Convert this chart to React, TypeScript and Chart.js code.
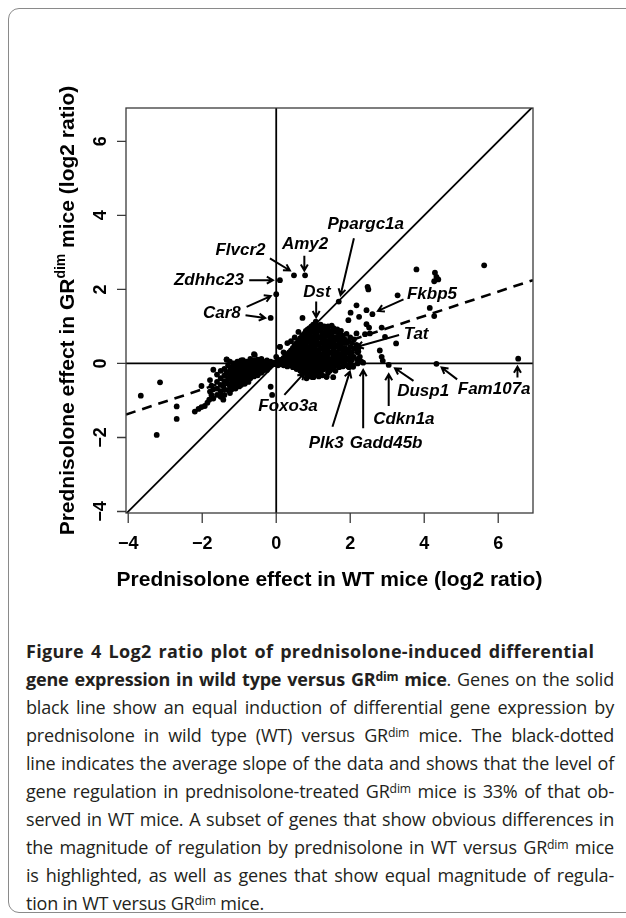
import React, { useEffect, useRef } from "react";
import { Chart, registerables } from "chart.js";

Chart.register(...registerables);

// ---------- data ----------
const xTicks = [-4, -2, 0, 2, 4, 6];
const yTicks = [-4, -2, 0, 2, 4, 6];
const xRange = [-4.06, 6.94];
const yRange = [-4.04, 6.9];
const fitSlope = 0.33;
const fitIntercept = -0.04;

const xTitle = "Prednisolone effect in WT mice (log2 ratio)";
const yTitleParts = ["Prednisolone effect in GR", "dim", " mice (log2 ratio)"];

// genes: [WT log2 ratio, GRdim log2 ratio]
const leftPoints: [number, number][] = [
  [-3.66, -0.87], [-3.14, -0.51], [-3.23, -1.93], [-2.69, -1.16], [-2.69, -1.5],
  [-2.2, -1.3], [-2.1, -1.23], [-2.02, -1.18], [-1.93, -1.15], [-1.86, -1.06], [-2.02, -0.61],
  [-1.79, -0.76], [-1.81, -0.98], [-1.79, -0.45],
  [-1.75, -0.6], [-1.75, -0.85], [-1.7, -0.17], [-1.7, -0.7], [-1.7, -0.95],
  [-1.6, -0.3], [-1.6, -0.5], [-1.6, -0.68], [-1.6, -0.85],
  [-1.5, -0.2], [-1.5, -0.4], [-1.5, -0.58], [-1.5, -0.75], [-1.5, -0.9],
  [-1.43, -0.98], [-1.43, -0.6],
  [-1.4, -0.15], [-1.4, -0.32], [-1.4, -0.48], [-1.4, -0.7], [-1.4, -0.85],
  [-1.34, 0.1], [-1.34, -0.25],
  [-1.3, -0.05], [-1.3, -0.4], [-1.3, -0.55], [-1.3, -0.72],
  [-1.25, 0.05], [-1.25, -0.18], [-1.25, -0.33], [-1.25, -0.62], [-1.25, -0.8],
  [-1.2, -0.1], [-1.2, -0.28], [-1.2, -0.45], [-1.2, -0.55], [-1.2, -0.7],
  [-1.15, 0.0], [-1.15, -0.2], [-1.15, -0.38], [-1.15, -0.6],
  [-1.1, -0.08], [-1.1, -0.25], [-1.1, -0.42], [-1.1, -0.5], [-1.1, -0.68],
  [-1.05, 0.05], [-1.05, -0.15], [-1.05, -0.32], [-1.05, -0.55],
  [-1.0, -0.05], [-1.0, -0.2], [-1.0, -0.38], [-1.0, -0.48], [-1.0, -0.62],
  [-0.95, 0.08], [-0.95, -0.1], [-0.95, -0.28], [-0.95, -0.42], [-0.95, -0.58],
  [-0.9, 0.09], [-0.9, -0.02], [-0.9, -0.18], [-0.9, -0.35], [-0.9, -0.5],
  [-0.85, -0.08], [-0.85, -0.25], [-0.85, -0.4], [-0.85, -0.55],
  [-0.8, 0.05], [-0.8, -0.12], [-0.8, -0.3], [-0.8, -0.45],
  [-0.75, 0.0], [-0.75, -0.18], [-0.75, -0.35], [-0.75, -0.5],
  [-0.7, 0.12], [-0.7, -0.05], [-0.7, -0.22], [-0.7, -0.4],
  [-0.65, 0.02], [-0.65, -0.12], [-0.65, -0.3],
  [-0.6, 0.25], [-0.6, 0.08], [-0.6, -0.05], [-0.6, -0.2], [-0.6, -0.35],
  [-0.55, 0.0], [-0.55, -0.15], [-0.55, -0.3],
  [-0.5, 0.1], [-0.5, -0.05], [-0.5, -0.2], [-0.5, -0.32],
  [-0.45, 0.03], [-0.45, -0.1], [-0.45, -0.25],
  [-0.4, 0.12], [-0.4, -0.02], [-0.4, -0.15], [-0.4, -0.25],
  [-0.35, 0.05], [-0.35, -0.1], [-0.35, -0.2],
  [-0.3, 0.0], [-0.3, -0.12],
  [-0.25, 0.08], [-0.25, -0.05], [-0.25, -0.18],
  [-0.2, 0.02], [-0.2, -0.1],
  [-0.15, 0.05], [-0.15, -0.05], [-0.15, -0.63],
  [-0.1, 0.0], [-0.11, -0.85],
  [-0.05, 0.03], [-0.05, -0.02],
];

const corePoints: [number, number][] = [
  [0.05, 0.0], [0.05, 0.1], [0.05, -0.05],
  [0.1, 0.05], [0.1, 0.45], [0.1, -0.02],
  [0.15, 0.1], [0.15, 0.0],
  [0.2, 0.15], [0.2, 0.02], [0.2, -0.05], [0.2, 0.3],
  [0.25, 0.2], [0.25, 0.08], [0.25, -0.03],
  [0.3, 0.25], [0.3, 0.12], [0.3, 0.0], [0.3, 0.55], [0.3, -0.08],
  [0.35, 0.3], [0.35, 0.15], [0.35, 0.05], [0.35, -0.05],
  [0.4, 0.35], [0.4, 0.2], [0.4, 0.08], [0.4, -0.02], [0.4, 0.6],
  [0.45, 0.42], [0.45, 0.25], [0.45, 0.12], [0.45, 0.0], [0.45, -0.1],
  [0.5, 0.5], [0.5, 0.3], [0.5, 0.18], [0.5, 0.05], [0.5, -0.05], [0.5, 0.7],
  [0.55, 0.55], [0.55, 0.38], [0.55, 0.22], [0.55, 0.1], [0.55, -0.02], [0.55, -0.15],
  [0.6, 0.62], [0.6, 0.45], [0.6, 0.3], [0.6, 0.15], [0.6, 0.03], [0.6, -0.1], [0.6, 0.85],
  [0.65, 0.68], [0.65, 0.5], [0.65, 0.35], [0.65, 0.2], [0.65, 0.08], [0.65, -0.05], [0.65, -0.2],
  [0.7, 0.75], [0.7, 0.58], [0.7, 0.4], [0.7, 0.25], [0.7, 0.12], [0.7, 0.0], [0.7, -0.15], [0.7, -0.3],
  [0.71, 1.23],
  [0.75, 0.8], [0.75, 0.62], [0.75, 0.45], [0.75, 0.3], [0.75, 0.15], [0.75, 0.02], [0.75, -0.1], [0.75, -0.25],
  [0.8, 0.88], [0.8, 0.7], [0.8, 0.52], [0.8, 0.35], [0.8, 0.2], [0.8, 0.08], [0.8, -0.05], [0.8, -0.2], [0.82, -0.4],
  [0.85, 0.92], [0.85, 0.75], [0.85, 0.58], [0.85, 0.4], [0.85, 0.25], [0.85, 0.1], [0.85, -0.02], [0.85, -0.15], [0.85, -0.32],
  [0.9, 0.95], [0.9, 0.8], [0.9, 0.62], [0.9, 0.45], [0.9, 0.3], [0.9, 0.15], [0.9, 0.0], [0.9, -0.12], [0.9, -0.28],
  [0.95, 1.0], [0.95, 0.85], [0.95, 0.68], [0.95, 0.5], [0.95, 0.35], [0.95, 0.2], [0.95, 0.05], [0.95, -0.08], [0.95, -0.22], [0.95, -0.36],
  [1.0, 1.05], [1.0, 0.9], [1.0, 0.72], [1.0, 0.55], [1.0, 0.4], [1.0, 0.25], [1.0, 0.1], [1.0, -0.05], [1.0, -0.18], [1.0, -0.37],
  [1.05, 0.95], [1.05, 0.78], [1.05, 0.6], [1.05, 0.45], [1.05, 0.28], [1.05, 0.12], [1.05, -0.02], [1.05, -0.15], [1.05, -0.3],
  [1.07, 1.13],
  [1.1, 1.02], [1.1, 0.82], [1.1, 0.65], [1.1, 0.5], [1.1, 0.32], [1.1, 0.18], [1.1, 0.02], [1.1, -0.12], [1.1, -0.25],
  [1.15, 0.98], [1.15, 0.88], [1.15, 0.7], [1.15, 0.52], [1.15, 0.35], [1.15, 0.2], [1.15, 0.05], [1.15, -0.1], [1.15, -0.28], [1.15, -0.35],
  [1.2, 1.05], [1.2, 0.9], [1.2, 0.72], [1.2, 0.55], [1.2, 0.4], [1.2, 0.22], [1.2, 0.08], [1.2, -0.05], [1.2, -0.2],
  [1.25, 0.95], [1.25, 0.78], [1.25, 0.6], [1.25, 0.42], [1.25, 0.25], [1.25, 0.1], [1.25, -0.02], [1.25, -0.18], [1.25, -0.32],
  [1.3, 1.0], [1.3, 0.82], [1.3, 0.65], [1.3, 0.48], [1.3, 0.3], [1.3, 0.15], [1.3, 0.0], [1.3, -0.15],
  [1.36, 0.92], [1.36, 0.75], [1.36, 0.55], [1.36, 0.35], [1.36, 0.18], [1.36, 0.02], [1.36, -0.12], [1.36, -0.36],
  [1.4, 1.0], [1.4, 0.8], [1.4, 0.6], [1.4, 0.42], [1.4, 0.25], [1.4, 0.08], [1.4, -0.08], [1.4, -0.25],
  [1.45, 0.88], [1.45, 0.7], [1.45, 0.5], [1.45, 0.3], [1.45, 0.12], [1.45, -0.05], [1.45, -0.2],
  [1.5, 1.02], [1.5, 0.82], [1.5, 0.62], [1.5, 0.45], [1.5, 0.28], [1.5, 0.1], [1.5, -0.02], [1.5, -0.15],
  [1.54, -0.37], [1.54, 0.7],
  [1.55, 0.95], [1.55, 0.55], [1.55, 0.35], [1.55, 0.18], [1.55, 0.0], [1.55, -0.12],
  [1.6, 0.85], [1.6, 0.65], [1.6, 0.45], [1.6, 0.25], [1.6, 0.08], [1.6, -0.05], [1.6, -0.2],
  [1.65, 0.92], [1.65, 0.72], [1.65, 0.5], [1.65, 0.3], [1.65, 0.12], [1.65, -0.02],
  [1.7, 0.8], [1.7, 0.6], [1.7, 0.4], [1.7, 0.2], [1.7, 0.05], [1.7, -0.1],
  [1.75, 0.88], [1.75, 0.68], [1.75, 0.45], [1.75, 0.25], [1.75, 0.08],
  [1.8, 0.75], [1.8, 0.55], [1.8, 0.35], [1.8, 0.15], [1.8, 0.0], [1.8, -0.08],
  [1.85, 0.65], [1.85, 0.42], [1.85, 0.22], [1.85, 0.05],
  [1.9, 0.8], [1.9, 0.55], [1.9, 0.3], [1.9, 0.1], [1.9, -0.05],
  [1.95, 0.6], [1.95, 0.38], [1.95, 0.15], [1.95, -0.08],
  [2.0, 0.7], [2.0, 0.45], [2.0, 0.25], [2.0, 0.02],
  [2.05, 0.55], [2.05, 0.3], [2.05, 0.1], [2.05, -0.05],
  [2.1, 0.65], [2.1, 0.4], [2.1, 0.18],
  [2.2, 0.3], [2.2, 0.1], [2.2, 0.0],
  [2.26, 0.18], [2.3, 0.05], [2.35, 0.02],
];

const outlierPoints: [number, number][] = [
  [0.1, 2.25], [0.48, 2.38], [0.78, 2.38], [0.0, 1.87], [-0.15, 1.23], [1.69, 1.67],
  [1.95, 1.17], [2.01, 1.37], [2.17, 1.57], [2.44, 1.44], [2.6, 1.33], [2.24, 1.26],
  [2.47, 2.07], [2.49, 2.0], [2.44, 1.06], [2.51, 0.97], [2.17, 0.81], [2.4, 0.79], [2.53, 0.81],
  [2.85, 0.97], [2.94, 0.72], [3.24, 0.54], [3.28, 1.84], [3.79, 2.54],
  [4.29, 2.45], [4.33, 2.34], [4.27, 2.22], [4.38, 2.27], [5.62, 2.65], [4.15, 1.5], [4.27, 1.28],
  [2.22, 0.41], [2.22, 0.32], [2.17, 0.5], [2.8, 0.35], [2.85, 0.18], [2.88, 0.07], [3.04, -0.04],
  [4.33, -0.01], [6.54, 0.13], [1.97, -0.1], [2.08, -0.09], [1.0, -0.37], [1.36, -0.36],
  [0.0, 0.18], [0.1, 0.45], [-0.58, 0.23], [-1.34, 0.11],
];

// gene labels: text position and arrows (x1,y1 -> x2,y2), in data units
const geneLabels = [
  { name: "Ppargc1a", x: 2.42, y: 3.77, arrows: [[2.1, 3.38, 1.74, 1.85]] },
  { name: "Amy2", x: 0.78, y: 3.23, arrows: [[0.76, 2.91, 0.76, 2.51]] },
  { name: "Flvcr2", x: -0.965, y: 3.05, arrows: [[-0.17, 2.84, 0.37, 2.51]] },
  { name: "Zdhhc23", x: -1.82, y: 2.25, arrows: [[-0.73, 2.25, -0.09, 2.25]] },
  { name: "Dst", x: 1.1, y: 1.93, arrows: [[1.08, 1.67, 1.08, 1.25]] },
  { name: "Fkbp5", x: 4.21, y: 1.88, arrows: [[3.44, 1.73, 2.75, 1.42]] },
  { name: "Car8", x: -1.47, y: 1.35, arrows: [[-0.8, 1.53, -0.15, 1.82], [-0.83, 1.3, -0.3, 1.23]] },
  { name: "Tat", x: 3.78, y: 0.79, arrows: [[3.32, 0.77, 2.19, 0.45]] },
  { name: "Foxo3a", x: 0.32, y: -1.15, arrows: [[0.22, -0.85, 0.75, -0.27]] },
  { name: "Plk3", x: 1.35, y: -2.16, arrows: [[1.52, -1.71, 1.99, -0.22]] },
  { name: "Gadd45b", x: 2.97, y: -2.16, arrows: [[2.35, -1.75, 2.35, -0.18]] },
  { name: "Cdkn1a", x: 3.45, y: -1.51, arrows: [[3.04, -1.15, 3.04, -0.29]] },
  { name: "Dusp1", x: 3.97, y: -0.76, arrows: [[3.71, -0.47, 3.21, -0.13]] },
  { name: "Fam107a", x: 5.89, y: -0.7, arrows: [[4.89, -0.43, 4.47, -0.11], [6.52, -0.38, 6.52, -0.09]] },
];

type Seg = { t: string; b?: boolean; sup?: boolean };
const captionLines: Seg[][] = [
  [{ t: "Figure 4 Log2 ratio plot of prednisolone-induced differential", b: true }],
  [{ t: "gene expression in wild type versus GR", b: true }, { t: "dim", b: true, sup: true }, { t: " mice", b: true }, { t: ". Genes on the solid" }],
  [{ t: "black line show an equal induction of differential gene expression by" }],
  [{ t: "prednisolone in wild type (WT) versus GR" }, { t: "dim", sup: true }, { t: " mice. The black-dotted" }],
  [{ t: "line indicates the average slope of the data and shows that the level of" }],
  [{ t: "gene regulation in prednisolone-treated GR" }, { t: "dim", sup: true }, { t: " mice is 33% of that ob-" }],
  [{ t: "served in WT mice. A subset of genes that show obvious differences in" }],
  [{ t: "the magnitude of regulation by prednisolone in WT versus GR" }, { t: "dim", sup: true }, { t: " mice" }],
  [{ t: "is highlighted, as well as genes that show equal magnitude of regula-" }],
  [{ t: "tion in WT versus GR" }, { t: "dim", sup: true }, { t: " mice." }],
];

const FONT = '"Liberation Sans", Arial, sans-serif';
const fmt = (v: number) => (v < 0 ? "\u2212" + Math.abs(v) : String(v));

function arrow(ctx: CanvasRenderingContext2D, x1: number, y1: number, x2: number, y2: number) {
  const a = Math.atan2(y2 - y1, x2 - x1);
  const h = 7;
  const sp = Math.PI / 6;
  ctx.beginPath();
  ctx.moveTo(x1, y1);
  ctx.lineTo(x2, y2);
  ctx.moveTo(x2 - h * Math.cos(a - sp), y2 - h * Math.sin(a - sp));
  ctx.lineTo(x2, y2);
  ctx.lineTo(x2 - h * Math.cos(a + sp), y2 - h * Math.sin(a + sp));
  ctx.stroke();
}

const rFrame = {
  id: "rFrame",
  afterDatasetsDraw(chart: any) {
    const { ctx, chartArea, scales } = chart;
    const { left, right, top, bottom } = chartArea;
    const xs = scales.x;
    const ys = scales.y;
    ctx.save();
    // box
    ctx.strokeStyle = "#3a3a3a";
    ctx.lineWidth = 1.3;
    ctx.strokeRect(left, top, right - left, bottom - top);
    // ticks
    ctx.beginPath();
    xTicks.forEach((v) => {
      const px = xs.getPixelForValue(v);
      ctx.moveTo(px, bottom);
      ctx.lineTo(px, bottom + 10);
    });
    yTicks.forEach((v) => {
      const py = ys.getPixelForValue(v);
      ctx.moveTo(left, py);
      ctx.lineTo(left - 9, py);
    });
    ctx.stroke();
    // tick labels
    ctx.fillStyle = "#000";
    ctx.font = "bold 18px " + FONT;
    ctx.textAlign = "center";
    ctx.textBaseline = "middle";
    xTicks.forEach((v) => ctx.fillText(fmt(v), xs.getPixelForValue(v), bottom + 31));
    yTicks.forEach((v) => {
      ctx.save();
      ctx.translate(left - 25, ys.getPixelForValue(v));
      ctx.rotate(-Math.PI / 2);
      ctx.fillText(fmt(v), 0, 0);
      ctx.restore();
    });
    // x title
    ctx.font = "bold 21px " + FONT;
    ctx.textBaseline = "alphabetic";
    ctx.fillText(xTitle, (left + right) / 2, bottom + 73);
    // y title
    ctx.save();
    ctx.translate(left - 60, (top + bottom) / 2);
    ctx.rotate(-Math.PI / 2);
    const fBig = "bold 21px " + FONT;
    const fSup = "bold 14px " + FONT;
    ctx.font = fBig;
    const w1 = ctx.measureText(yTitleParts[0]).width;
    const w3 = ctx.measureText(yTitleParts[2]).width;
    ctx.font = fSup;
    const w2 = ctx.measureText(yTitleParts[1]).width;
    let cx = -(w1 + w2 + w3) / 2;
    ctx.textAlign = "left";
    ctx.font = fBig;
    ctx.fillText(yTitleParts[0], cx, 7.5);
    cx += w1;
    ctx.font = fSup;
    ctx.fillText(yTitleParts[1], cx, -1.5);
    cx += w2;
    ctx.font = fBig;
    ctx.fillText(yTitleParts[2], cx, 7.5);
    ctx.restore();
    // gene labels
    ctx.font = "italic bold 17px " + FONT;
    ctx.textAlign = "center";
    ctx.textBaseline = "middle";
    ctx.strokeStyle = "#000";
    ctx.lineWidth = 2;
    geneLabels.forEach((g) => {
      ctx.fillText(g.name, xs.getPixelForValue(g.x), ys.getPixelForValue(g.y));
      g.arrows.forEach((a) =>
        arrow(ctx, xs.getPixelForValue(a[0]), ys.getPixelForValue(a[1]), xs.getPixelForValue(a[2]), ys.getPixelForValue(a[3]))
      );
    });
    ctx.restore();
  },
};

export default function App() {
  const ref = useRef<HTMLCanvasElement | null>(null);
  useEffect(() => {
    if (!ref.current) return;
    const pts = [...leftPoints, ...corePoints, ...outlierPoints].map(([x, y]) => ({ x, y }));
    const chart = new Chart(ref.current, {
      type: "scatter",
      data: {
        datasets: [
          { data: pts, pointRadius: 2.9, pointBackgroundColor: "#000", pointBorderWidth: 0, showLine: false },
          {
            data: [{ x: xRange[0], y: xRange[0] }, { x: xRange[1], y: xRange[1] }],
            showLine: true, borderColor: "#000", borderWidth: 1.8, pointRadius: 0,
          },
          {
            data: [
              { x: xRange[0], y: fitSlope * xRange[0] + fitIntercept },
              { x: xRange[1], y: fitSlope * xRange[1] + fitIntercept },
            ],
            showLine: true, borderColor: "#000", borderWidth: 2.6, borderDash: [10, 7], pointRadius: 0,
          },
          {
            data: [{ x: xRange[0], y: 0 }, { x: xRange[1], y: 0 }],
            showLine: true, borderColor: "#000", borderWidth: 1.8, pointRadius: 0,
          },
          {
            data: [{ x: 0, y: yRange[0] }, { x: 0, y: yRange[1] }],
            showLine: true, borderColor: "#000", borderWidth: 1.8, pointRadius: 0,
          },
        ],
      },
      options: {
        animation: false,
        responsive: true,
        maintainAspectRatio: false,
        layout: { padding: { left: 126, right: 93, top: 108, bottom: 87 } },
        scales: {
          x: { type: "linear", min: xRange[0], max: xRange[1], display: false },
          y: { type: "linear", min: yRange[0], max: yRange[1], display: false },
        },
        plugins: { legend: { display: false }, tooltip: { enabled: false } },
      },
      plugins: [rFrame],
    });
    return () => chart.destroy();
  }, []);

  return (
    <div style={{ position: "absolute", left: 0, top: 0, width: 626, height: 918, overflow: "hidden", background: "#fff" }}>
      <div
        style={{
          position: "absolute", left: 8, top: 8, width: 630, height: 905, boxSizing: "border-box",
          border: "1px solid #8a8a8a", borderRadius: 11,
        }}
      />
      <div style={{ position: "absolute", left: 0, top: 0, width: 626, height: 600 }}>
        <canvas ref={ref} />
      </div>
      <div
        style={{
          position: "absolute", left: 26, top: 637, width: 588, fontFamily: '"Open Sans", sans-serif',
          fontSize: 18, lineHeight: "28px", color: "#231f20", letterSpacing: -0.2,
        }}
      >
        {captionLines.map((line, i) => (
          <div
            key={i}
            style={{
              textAlign: i === 0 || i === captionLines.length - 1 ? "left" : "justify",
              textAlignLast: i === 0 || i === captionLines.length - 1 ? "left" : "justify",
              whiteSpace: "nowrap",
              letterSpacing: i === 0 ? 0.3 : undefined,
              wordSpacing: i === 0 ? 2 : undefined,
            }}
          >
            {line.map((s, j) =>
              s.sup ? (
                <sup key={j} style={{ fontSize: "0.68em", fontWeight: s.b ? 700 : 400, verticalAlign: "0.45em", lineHeight: 0 }}>{s.t}</sup>
              ) : (
                <span key={j} style={{ fontWeight: s.b ? 700 : 400 }}>{s.t}</span>
              )
            )}
          </div>
        ))}
      </div>
    </div>
  );
}
